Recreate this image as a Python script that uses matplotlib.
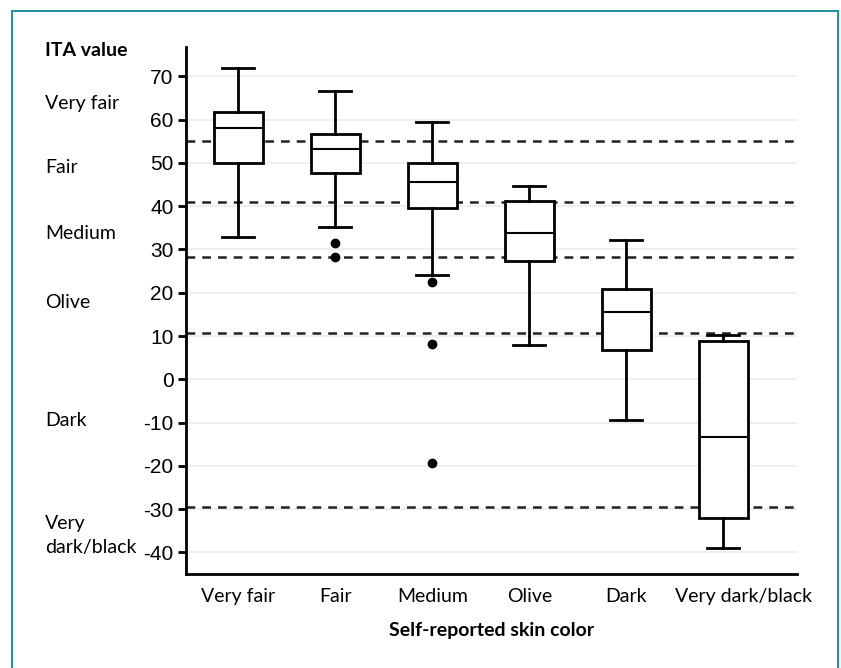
import matplotlib.pyplot as plt
import matplotlib.transforms as mtransforms
from matplotlib.patches import Rectangle

categories = ['Very fair', 'Fair', 'Medium', 'Olive', 'Dark', 'Very dark/black']
whislo = [32.8, 35.1, 24.2, 7.9, -9.5, -39.0]
q1 = [50.0, 47.6, 39.7, 27.3, 6.7, -32.1]
med = [58.0, 53.3, 45.5, 33.7, 15.5, -13.4]
q3 = [61.7, 56.8, 49.9, 41.1, 20.8, 8.8]
whishi = [72.0, 66.7, 59.4, 44.6, 32.1, 10.2]
fliers = [[], [31.4, 28.2], [22.4, 8.1, -19.4], [], [], []]

thresholds = [55, 41, 28.2, 10.6, -29.6]
ita_labels = ['Very fair', 'Fair', 'Medium', 'Olive', 'Dark', 'Very\ndark/black']
ita_label_pos = [63.7, 49.0, 33.7, 17.8, -9.5, -36.0]
yticks = list(range(-40, 71, 10))

stats = []
for i in range(len(categories)):
    stats.append(dict(whislo=whislo[i], q1=q1[i], med=med[i], q3=q3[i],
                      whishi=whishi[i], fliers=fliers[i], label=categories[i]))

fig = plt.figure(figsize=(8.41, 6.68), dpi=100)
ax = fig.add_axes([186/841, 94/668, 611/841, 527/668])

# faint grid and ITA category cut-offs
for t in yticks:
    ax.axhline(t, color='#ececec', lw=1.2, zorder=0)
for t in thresholds:
    ax.axhline(t, color='#222222', lw=1.8, ls=(0, (3.5, 2.8)), zorder=1)

ax.bxp(stats, positions=range(len(categories)), widths=0.5, patch_artist=True,
       boxprops=dict(facecolor='white', edgecolor='black', lw=2),
       medianprops=dict(color='black', lw=1.5),
       whiskerprops=dict(color='black', lw=2),
       capprops=dict(color='black', lw=2),
       capwidths=0.33,
       flierprops=dict(marker='o', markerfacecolor='black', markeredgecolor='black', markersize=6),
       zorder=3)

ax.set_xlim(-0.54, 5.76)
ax.set_ylim(-45, 76.8)
ax.set_yticks(yticks)
ax.set_yticklabels([str(t) for t in yticks], family='Liberation Sans', fontsize=15)
ax.tick_params(axis='y', length=6, width=2, pad=3)
ax.tick_params(axis='x', length=0, pad=10)
ax.set_xticks(range(len(categories)))
ax.set_xticklabels(categories, family='Lato', fontsize=14)
# last label sits a bit to the right in the original
last = ax.get_xticklabels()[-1]
last.set_transform(last.get_transform() +
                   mtransforms.ScaledTranslation(20/100, 0, fig.dpi_scale_trans))
for s in ['top', 'right']:
    ax.spines[s].set_visible(False)
for s in ['left', 'bottom']:
    ax.spines[s].set_linewidth(2)
ax.set_xlabel('Self-reported skin color', family='Lato', fontsize=14,
              fontweight='bold', labelpad=12)

fig.text(45/841, 1 - 50/668, 'ITA value', family='Lato', fontsize=14,
         fontweight='bold', va='center', ha='left')
trans = mtransforms.blended_transform_factory(fig.transFigure, ax.transData)
for lab, v in zip(ita_labels, ita_label_pos):
    ax.text(45/841, v, lab, transform=trans, family='Lato', fontsize=14,
            va='center', ha='left', linespacing=1.5)

fig.patches.append(Rectangle((12/841, -0.05), 826/841, 1.05 - 11/668,
                             transform=fig.transFigure, fill=False,
                             edgecolor='#2a8fa0', lw=1.5))

fig.savefig('out.png', dpi=100)
